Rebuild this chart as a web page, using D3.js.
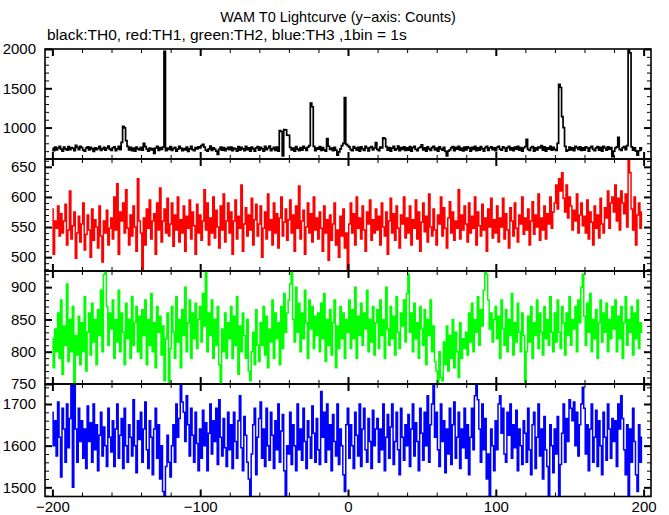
<!DOCTYPE html>
<html><head><meta charset="utf-8">
<script src="https://cdn.jsdelivr.net/npm/d3@7"></script>
<style>body{margin:0;background:#fff}svg{display:block}</style>
</head><body><svg id="c" width="669" height="515"></svg>
<script>
// time of first bin (s), 1 bin = 1 s
const timeStart = -200;

// TH0 (black)
const th0 = [
735,705,750,715,740,762,725,700,752,730,712,758,720,745,735,705,775,748,718,760,
745,712,700,738,755,715,748,728,698,742,720,735,760,708,730,748,712,740,765,725,
710,742,755,705,730,762,720,812,1015,995,835,760,715,748,705,738,700,752,728,715,
748,712,800,758,725,700,740,715,732,670,740,762,710,745,722,750,1970,705,738,722,
758,710,735,748,700,725,760,738,705,732,715,752,698,728,762,720,705,745,730,755,
740,770,785,752,712,700,728,765,708,742,725,700,660,722,750,712,745,705,728,748,
718,752,705,740,728,700,758,712,748,730,705,762,718,742,700,752,728,700,742,758,
712,748,730,700,762,718,740,765,705,728,748,710,752,700,960,950,640,975,970,905,
900,748,715,740,700,758,725,705,745,712,762,738,710,752,770,1310,1265,760,705,742,
725,758,708,745,715,700,860,762,722,740,705,748,712,650,690,730,770,800,1380,785,
770,752,720,705,758,738,712,748,700,755,728,710,762,740,702,745,758,715,740,810,
722,705,752,740,870,860,758,712,745,700,738,760,712,728,765,705,745,722,755,710,
742,712,758,700,745,762,722,705,740,752,780,715,742,700,755,728,708,745,762,715,
740,700,755,728,712,748,698,640,700,715,742,758,705,748,725,762,712,740,702,752,
715,755,738,700,748,722,762,705,742,712,758,728,700,745,762,710,740,755,718,742,
705,748,762,725,712,755,740,700,745,762,715,742,705,752,725,760,712,745,700,740,
758,850,722,708,745,758,700,742,715,752,740,770,712,755,700,742,725,760,712,748,
722,708,800,1550,1510,1140,1000,760,700,712,752,715,742,705,760,745,722,755,708,742,
712,755,740,700,745,762,722,705,742,758,712,748,700,762,740,712,755,725,745,630,
700,740,755,875,722,708,745,758,720,770,1985,1950,755,712,742,700,650,705,742,715
];

// TH1 (red)
const th1 = [
580,505,560,548,585,535,572,540,560,588,520,545,610,530,552,575,498,540,568,525,
555,590,512,538,570,545,500,580,528,562,550,515,585,535,492,560,540,578,520,548,
565,530,600,545,622,505,575,560,590,540,612,548,520,570,535,585,550,510,630,560,
540,477,565,520,580,548,595,530,560,572,505,590,545,615,525,560,580,540,598,535,
555,590,518,570,545,600,525,562,540,585,510,568,548,595,530,575,552,505,588,540,
570,528,560,612,545,590,520,565,540,600,532,578,550,515,585,545,605,525,560,590,
540,575,505,560,595,530,568,548,620,510,555,582,535,570,545,598,520,562,588,535,
555,585,500,548,575,530,605,545,562,520,590,540,572,515,565,600,535,558,580,528,
562,595,540,570,510,585,548,618,530,560,578,505,550,590,540,572,525,600,545,565,
530,575,548,510,585,540,562,495,570,528,555,590,520,545,500,568,535,580,515,540,
477,555,590,540,572,520,600,548,565,530,585,545,510,575,555,595,528,562,540,580,
545,568,520,590,550,535,575,505,560,598,540,572,528,585,548,515,570,555,600,532,
565,540,585,520,562,548,595,530,575,510,558,590,542,568,525,605,550,535,580,545,
520,570,555,600,535,582,548,515,565,592,540,575,528,560,548,612,530,570,545,585,
555,525,590,540,568,548,600,520,575,552,535,588,545,565,510,580,550,598,532,562,
540,585,525,565,550,598,530,572,545,515,582,560,535,590,548,525,570,555,600,538,
565,545,580,520,560,592,538,570,550,605,528,565,545,585,530,572,555,600,548,575,
590,620,580,630,610,640,598,575,620,565,600,585,545,578,560,605,540,570,590,552,
568,540,595,530,575,558,520,585,548,570,532,598,555,540,582,565,610,548,590,600,
575,620,560,598,545,610,590,572,605,550,663,640,580,545,600,520,570,590,548,575
];

// TH2 (green)
const th2 = [
820,775,835,800,860,790,880,765,840,810,905,785,850,800,870,752,825,795,855,780,
845,800,885,770,830,860,795,875,815,850,780,865,825,895,800,920,925,870,810,860,
835,880,790,850,815,895,800,860,830,780,875,820,850,790,885,810,845,870,800,855,
790,865,825,880,780,850,810,890,800,845,775,870,830,855,795,840,755,820,860,752,
805,870,830,790,885,815,850,775,865,825,900,800,845,880,790,860,820,875,805,850,
870,815,890,840,925,800,860,825,880,790,850,810,870,780,752,835,800,860,790,845,
820,870,790,855,810,885,765,840,800,860,825,790,850,770,755,800,830,780,865,810,
785,845,810,870,795,855,775,835,815,880,790,860,820,845,780,870,805,890,830,860,
880,905,925,850,815,900,830,875,800,860,820,895,845,790,880,835,870,805,855,825,
860,800,875,820,890,785,850,810,865,795,845,880,775,840,805,870,820,860,790,850,
830,880,805,865,820,900,790,855,825,875,810,860,835,895,800,850,815,870,795,845,
865,805,880,825,850,790,900,835,810,870,820,855,795,885,830,805,860,840,880,815,
890,920,830,860,800,875,820,845,790,870,835,810,865,780,850,825,880,800,840,785,
770,752,800,760,755,815,780,840,770,825,790,850,775,830,800,760,845,790,820,805,
830,795,860,815,875,800,850,830,885,810,865,840,895,925,920,880,835,860,815,850,
870,820,855,790,880,835,810,865,800,850,825,890,795,845,815,875,830,800,860,825,
752,800,855,815,870,790,845,825,880,805,860,830,795,870,820,850,810,885,830,800,
860,815,880,830,805,870,845,795,860,825,885,810,850,835,870,800,880,845,900,920,
855,810,875,830,890,800,850,820,865,790,845,880,815,860,830,875,800,850,820,870,
835,880,800,855,820,870,790,845,885,810,850,830,870,795,860,820,880,805,845,830
];

// TH3 (blue)
const th3 = [
1680,1600,1660,1575,1705,1620,1525,1690,1640,1560,1700,1595,1665,1745,1500,1745,1640,1560,1690,1610,
1660,1570,1640,1545,1695,1610,1655,1560,1700,1590,1650,1540,1625,1680,1575,1645,1600,1550,1690,1620,
1585,1660,1550,1640,1700,1570,1625,1665,1545,1690,1600,1560,1650,1620,1575,1710,1600,1535,1660,1615,
1680,1560,1640,1705,1590,1545,1660,1620,1530,1640,1690,1570,1650,1520,1600,1490,1478,1550,1625,1560,
1525,1600,1650,1560,1700,1620,1665,1745,1705,1680,1610,1720,1650,1575,1690,1625,1560,1680,1605,1540,
1640,1570,1685,1600,1655,1540,1630,1700,1580,1660,1610,1690,1555,1710,1620,1575,1665,1595,1550,1680,
1590,1650,1545,1680,1610,1570,1660,1720,1595,1540,1670,1625,1560,1520,1478,1580,1650,1690,1530,1620,
1665,1705,1570,1640,1550,1690,1600,1565,1680,1625,1545,1660,1590,1700,1560,1635,1675,1540,1480,1600,
1580,1680,1555,1650,1600,1540,1700,1590,1640,1565,1690,1610,1545,1660,1620,1570,1695,1630,1560,1665,
1590,1555,1730,1620,1680,1560,1700,1590,1650,1540,1675,1610,1575,1700,1555,1640,1600,1530,1490,1650,
1690,1570,1650,1600,1545,1680,1625,1575,1700,1550,1640,1690,1590,1560,1665,1610,1545,1685,1600,1640,
1665,1560,1640,1590,1700,1540,1620,1675,1570,1645,1700,1555,1610,1680,1590,1530,1690,1620,1565,1650,
1600,1675,1550,1640,1700,1575,1655,1610,1540,1690,1630,1565,1680,1600,1720,1560,1650,1700,1745,1620,
1680,1590,1550,1700,1610,1660,1535,1640,1580,1690,1555,1650,1705,1570,1620,1680,1545,1640,1595,1690,
1570,1650,1530,1620,1690,1590,1720,1745,1710,1640,1560,1700,1590,1665,1520,1580,1480,1640,1600,1540,
1660,1590,1700,1720,1630,1690,1580,1560,1680,1625,1700,1570,1650,1595,1685,1540,1640,1600,1555,1660,
1630,1560,1690,1590,1530,1650,1680,1545,1620,1700,1575,1640,1520,1670,1590,1550,1480,1650,1600,1535,
1640,1580,1670,1480,1555,1630,1700,1560,1665,1610,1710,1690,1660,1705,1600,1680,1575,1650,1700,1740,
1690,1580,1650,1540,1640,1700,1560,1620,1685,1550,1660,1600,1530,1680,1620,1565,1700,1640,1570,1665,
1610,1660,1550,1700,1640,1720,1665,1590,1530,1650,1478,1640,1560,1690,1610,1530,1490,1650,1560,1620
];

// axis ticks
const xMajor = [-200, -100, 0, 100, 200];
const xMinor = [-180,-160,-140,-120,-80,-60,-40,-20,20,40,60,80,120,140,160,180];
const yMajor0 = [1000, 1500, 2000];
const yMinor0 = [600, 700, 800, 900, 1100, 1200, 1300, 1400, 1600, 1700, 1800, 1900];
const yMajor1 = [500, 550, 600, 650];
const yMajor2 = [750, 800, 850, 900];
const yMajor3 = [1500, 1600, 1700];

const titleText = "WAM T0 Lightcurve (y\u2212axis: Counts)";
const subtitleText = "black:TH0, red:TH1, green:TH2, blue:TH3 ,1bin = 1s";

function minorBetween(lo, hi, step, majors) {
  return d3.range(lo, hi + 0.001, step).filter(v => !majors.includes(v));
}

const svg = d3.select("#c");
const FONT = "'Liberation Sans', Arial, Helvetica, sans-serif";
svg.append("rect").attr("width", 669).attr("height", 515).attr("fill", "#fff");

const x = d3.scaleLinear().domain([-205, 205]).range([45, 651]);
const times = d3.range(th0.length).map(i => timeStart + i);

const panels = [
  {data: th0, color: "#000000", domain: [600, 2000], top: 49, bottom: 159,
   major: yMajor0, minor: yMinor0, lw: 1.7},
  {data: th1, color: "#ff0000", domain: [477, 663], top: 159, bottom: 271,
   major: yMajor1, minor: minorBetween(480, 660, 10, yMajor1), lw: 1.5},
  {data: th2, color: "#00ff00", domain: [750, 925], top: 271, bottom: 384,
   major: yMajor2, minor: minorBetween(760, 920, 10, yMajor2), lw: 1.5},
  {data: th3, color: "#0000ff", domain: [1478, 1748], top: 384, bottom: 496.5,
   major: yMajor3, minor: minorBetween(1480, 1740, 20, yMajor3), lw: 1.5}
];

function styleAxis(g, width, label) {
  g.select(".domain").remove();
  g.selectAll(".tick line").attr("stroke", "#000").attr("stroke-width", width);
  g.attr("font-family", FONT).attr("font-size", 15);
  g.selectAll(".tick text").attr("fill", "#000");
  if (!label) g.selectAll(".tick text").remove();
}

const x0 = x.range()[0], x1 = x.range()[1];

panels.forEach((p, k) => {
  const y = d3.scaleLinear().domain(p.domain).range([p.bottom, p.top]);
  const g = svg.append("g");
  const clipId = "clip" + k;
  svg.append("clipPath").attr("id", clipId).append("rect")
    .attr("x", x0).attr("y", p.top).attr("width", x1 - x0).attr("height", p.bottom - p.top);

  const line = d3.line().x((d, i) => x(times[i])).y(d => y(d)).curve(d3.curveStep);
  g.append("path").datum(p.data).attr("clip-path", `url(#${clipId})`)
    .attr("fill", "none").attr("stroke", p.color).attr("stroke-width", p.lw)
    .attr("stroke-linejoin", "miter").attr("d", line);

  g.append("g").attr("transform", `translate(${x0},0)`)
    .call(d3.axisLeft(y).tickValues(p.major).tickSize(-7).tickPadding(9).tickFormat(d3.format("d")))
    .call(a => styleAxis(a, 2, true));
  g.append("g").attr("transform", `translate(${x0},0)`)
    .call(d3.axisLeft(y).tickValues(p.minor).tickSize(-4))
    .call(a => styleAxis(a, 1, false));
  g.append("g").attr("transform", `translate(${x1},0)`)
    .call(d3.axisRight(y).tickValues(p.major).tickSize(-7))
    .call(a => styleAxis(a, 2, false));
  g.append("g").attr("transform", `translate(${x1},0)`)
    .call(d3.axisRight(y).tickValues(p.minor).tickSize(-4))
    .call(a => styleAxis(a, 1, false));
  g.append("g").attr("transform", `translate(0,${p.top})`)
    .call(d3.axisTop(x).tickValues(xMajor).tickSize(-7))
    .call(a => styleAxis(a, 2, false));
  g.append("g").attr("transform", `translate(0,${p.top})`)
    .call(d3.axisTop(x).tickValues(xMinor).tickSize(-4))
    .call(a => styleAxis(a, 1, false));
  const last = k === panels.length - 1;
  g.append("g").attr("transform", `translate(0,${p.bottom})`)
    .call(d3.axisBottom(x).tickValues(xMajor).tickSize(-7).tickPadding(5))
    .call(a => styleAxis(a, 2, last));
  g.append("g").attr("transform", `translate(0,${p.bottom})`)
    .call(d3.axisBottom(x).tickValues(xMinor).tickSize(-4))
    .call(a => styleAxis(a, 1, false));

  g.append("rect").attr("x", x0).attr("y", p.top).attr("width", x1 - x0)
    .attr("height", p.bottom - p.top).attr("fill", "none")
    .attr("stroke", "#000").attr("stroke-width", 1.6);
});

svg.append("text").attr("x", 338).attr("y", 22).attr("text-anchor", "middle")
  .attr("font-family", FONT).attr("font-size", 14.5).text(titleText);
svg.append("text").attr("x", 47).attr("y", 40)
  .attr("font-family", FONT).attr("font-size", 15.5).text(subtitleText);
</script>
</body></html>
